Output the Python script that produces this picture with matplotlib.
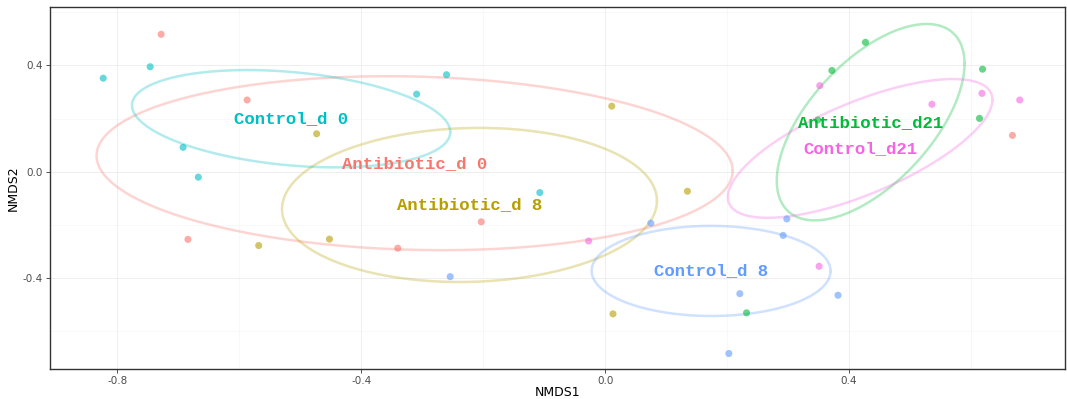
import numpy as np
import matplotlib
matplotlib.use("Agg")
import matplotlib.pyplot as plt

plt.rcParams["axes.unicode_minus"] = False

# NMDS scores, one pair of lists per group
groups = ["Antibiotic_d 0", "Antibiotic_d 8", "Antibiotic_d21",
          "Control_d 0", "Control_d 8", "Control_d21"]
colors = ["#F8766D", "#B79F00", "#00BA38", "#00BFC4", "#619CFF", "#F564E3"]

ab_d0_x = [-0.728, -0.587, -0.684, -0.340, -0.203, 0.668]
ab_d0_y = [0.517, 0.270, -0.254, -0.287, -0.188, 0.137]

ab_d8_x = [-0.473, -0.568, -0.452, 0.011, 0.135, 0.013]
ab_d8_y = [0.143, -0.277, -0.253, 0.247, -0.073, -0.534]

ab_d21_x = [0.427, 0.372, 0.619, 0.614, 0.232, 0.349]
ab_d21_y = [0.487, 0.381, 0.386, 0.201, -0.530, 0.195]

ct_d0_x = [-0.823, -0.746, -0.692, -0.667, -0.309, -0.260, -0.107]
ct_d0_y = [0.352, 0.395, 0.092, -0.020, 0.292, 0.365, -0.078]

ct_d8_x = [-0.254, 0.075, 0.298, 0.292, 0.221, 0.382, 0.203]
ct_d8_y = [-0.394, -0.193, -0.177, -0.239, -0.458, -0.464, -0.683]

ct_d21_x = [0.352, 0.618, 0.680, 0.536, -0.027, 0.351]
ct_d21_y = [0.324, 0.295, 0.270, 0.254, -0.260, -0.355]

# samples per group behind the ellipses (control ellipses are tighter
# than the visible points alone would give)
n_samples = [6, 6, 6, 8, 8, 8]

xs = [ab_d0_x, ab_d8_x, ab_d21_x, ct_d0_x, ct_d8_x, ct_d21_x]
ys = [ab_d0_y, ab_d8_y, ab_d21_y, ct_d0_y, ct_d8_y, ct_d21_y]


def sd_ellipse(px, py, n, segments=200):
    # one standard deviation ellipse round the group mean
    data = np.column_stack([px, py])
    center = data.mean(axis=0)
    dev = data - center
    cov = dev.T @ dev / (n - 1)
    chol = np.linalg.cholesky(cov).T
    ang = np.linspace(0, 2 * np.pi, segments)
    circ = np.column_stack([np.cos(ang), np.sin(ang)])
    return center + circ @ chol


fig = plt.figure(figsize=(10.67, 3.99), dpi=100)
ax = fig.add_axes([0.047, 0.074, 0.951, 0.908])

for g, c, px, py, n in zip(groups, colors, xs, ys, n_samples):
    ax.scatter(px, py, s=26, color=c, alpha=0.6, edgecolors="none", zorder=3)
    e = sd_ellipse(px, py, n)
    ax.plot(e[:, 0], e[:, 1], color=c, alpha=0.3, lw=1.8, zorder=2)

for g, c, px, py in zip(groups, colors, xs, ys):
    ax.text(np.mean(px), np.mean(py), g, color=c, fontsize=12.5,
            family="Liberation Mono", fontweight="bold",
            ha="center", va="center", zorder=4)

ax.set_xlim(-0.91, 0.754)
ax.set_ylim(-0.743, 0.619)
ax.set_xticks([-0.8, -0.4, 0.0, 0.4])
ax.set_yticks([-0.4, 0.0, 0.4])
ax.set_xticks([-0.6, -0.2, 0.2, 0.6], minor=True)
ax.set_yticks([-0.6, -0.2, 0.2, 0.6], minor=True)
ax.grid(True, which="major", color="#EBEBEB", lw=0.6, zorder=0)
ax.grid(True, which="minor", color="#F4F4F4", lw=0.4, zorder=0)
ax.set_axisbelow(True)
ax.tick_params(which="major", labelsize=7.5, labelcolor="#4D4D4D",
               color="#333333", length=3, width=0.6, pad=2)
ax.tick_params(which="minor", length=0)
for s in ax.spines.values():
    s.set_color("#333333")
    s.set_linewidth(1.0)

ax.set_xlabel("NMDS1", fontsize=9, labelpad=0)
ax.set_ylabel("NMDS2", fontsize=9, labelpad=2)

fig.savefig("out.png", dpi=100)
